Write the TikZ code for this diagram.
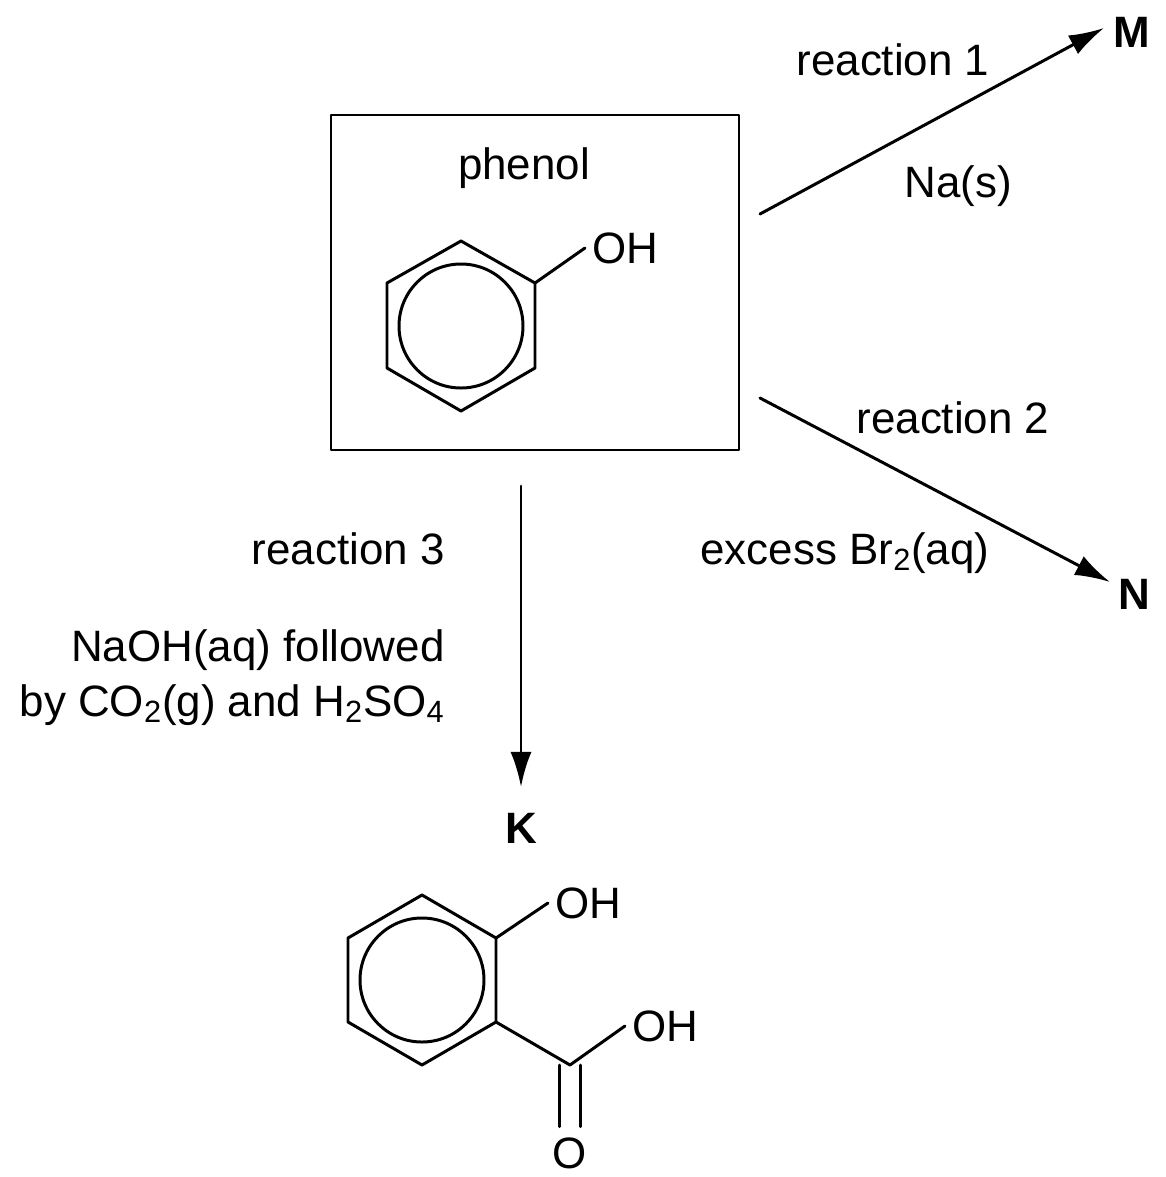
\documentclass[tikz,border=0pt]{standalone}
\usepackage{fontspec}
\setmainfont{Liberation Sans}
\usetikzlibrary{arrows.meta}
\begin{document}
\begin{tikzpicture}[line cap=round,line join=round,x=0.02cm,y=-0.02cm,
  font=\fontsize{25}{30}\selectfont,
  bond/.style={line width=1.7pt},
  rxn/.style={line width=1.7pt,-{Latex[length=20pt,width=12pt]}},
  lab/.style={inner sep=0pt}]
  \useasboundingbox (0,0) rectangle (1166,1177);
  % starting compound
  \draw [line width=1pt] (331,115) rectangle (739,450);
  \node [lab] (phenol) at (524,168) {phenol};
  \draw [bond] (461,241)--(535,283)--(535,368)--(461,411)--(387,368)--(387,283)--cycle;
  \draw [bond] (461,326) circle (62);
  \node [lab,anchor=west] (oh1) at (592,248) {OH};
  \draw [bond] (535,283) -- ([xshift=-4]oh1.west);
  % reaction 1
  \coordinate (s1) at (760,214);
  \node [lab,font=\fontsize{25}{30}\selectfont\bfseries] (M) at (1132,32) {M};
  \draw [rxn] (s1) -- (1104,28);
  \node [lab] (r1) at (893,60) {reaction 1};
  \node [lab] (c1) at (958,186) {Na(s)};
  % reaction 2
  \coordinate (s2) at (760,398);
  \node [lab,font=\fontsize{25}{30}\selectfont\bfseries] (N) at (1134,594) {N};
  \draw [rxn] (s2) -- (1110,582);
  \node [lab] (r2) at (953,418) {reaction 2};
  \node [lab] (c2) at (845,553) {excess Br\textsubscript{2}(aq)};
  % reaction 3
  \coordinate (s3) at (521,486);
  \node [lab,font=\fontsize{25}{30}\selectfont\bfseries] (K) at (521,828) {K};
  \draw [rxn] (s3) -- (521,787);
  \node [lab,anchor=east] (r3) at (445,549) {reaction 3};
  \node [lab,anchor=east] (c3a) at (445,650) {NaOH(aq) followed};
  \node [lab,anchor=east] (c3b) at (445,705) {by CO\textsubscript{2}(g) and H\textsubscript{2}SO\textsubscript{4}};
  % product K
  \draw [bond] (422,895)--(496,938)--(496,1022)--(422,1065)--(348,1022)--(348,938)--cycle;
  \draw [bond] (422,980) circle (62);
  \node [lab,anchor=west] (oh2) at (555,903) {OH};
  \draw [bond] (496,938) -- ([xshift=-4]oh2.west);
  \coordinate (cc) at (570,1065);
  \node [lab,anchor=west] (oh3) at (632,1026) {OH};
  \node [lab] (o) at (570,1153) {O};
  \draw [bond] (496,1022) -- (cc) -- ([xshift=-4]oh3.west);
  \draw [bond] ([xshift=-6]cc) -- ([xshift=-6,yshift=6]o.north);
  \draw [bond] ([xshift=6]cc) -- ([xshift=6,yshift=6]o.north);
\end{tikzpicture}
\end{document}
